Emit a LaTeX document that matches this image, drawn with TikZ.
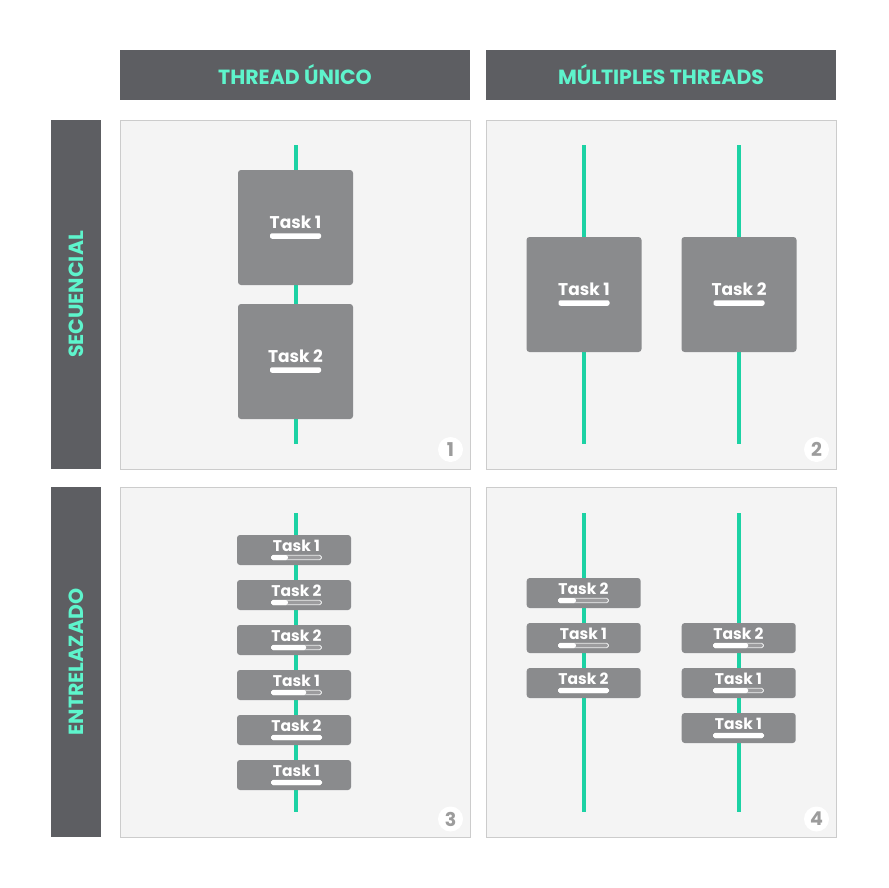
\documentclass[tikz,border=0pt]{standalone}
\usepackage{fontspec}
\setmainfont{Poppins}
\definecolor{hdr}{HTML}{5D5E62}
\definecolor{mint}{HTML}{5EF4CC}
\definecolor{thr}{HTML}{1CD2A4}
\definecolor{tbox}{HTML}{8A8B8D}
\definecolor{pbg}{HTML}{F4F4F4}
\definecolor{pline}{HTML}{CCCCCC}
\definecolor{numc}{HTML}{9C9C9C}
\newcommand{\tasksmall}[6]{% name, box cx, cy, label, frac, content cx
  \node[smallbox] (#1) at (#2,#3) {};
  \node[tasklabel, font=\fontsize{15.5}{16}\selectfont\bfseries] (#1-l) at (#6,#3-4.5) {#4};
  \node[barbg] (#1-b) at (#6,#3+7.5) {};
  \pgfmathsetmacro\barend{#6-25.5+51*#5}
  \fill[white, rounded corners=1.8pt] (#6-25.5,#3+5) rectangle (\barend,#3+10);
}
\newcommand{\taskbig}[4]{% name, cx, cy, label
  \node[bigbox] (#1) at (#2,#3) {};
  \node[tasklabel, font=\fontsize{17}{18}\selectfont\bfseries] (#1-l) at (#2,#3-5) {#4};
  \node[barfull] (#1-b) at (#2,#3+8.5) {};
}
\begin{document}
\begin{tikzpicture}[x=1pt,y=-1pt,
  header/.style={fill=hdr, draw=none, inner sep=0pt, text=mint,
    font=\fontsize{20.5}{22}\selectfont\bfseries},
  panel/.style={fill=pbg, draw=pline, line width=0.8pt, inner sep=0pt},
  thread/.style={draw=thr, line width=4pt},
  bigbox/.style={fill=tbox, rounded corners=3pt, minimum width=115pt, minimum height=115pt, inner sep=0pt},
  smallbox/.style={fill=tbox, rounded corners=3pt, minimum width=114pt, minimum height=30pt, inner sep=0pt},
  tasklabel/.style={text=white, inner sep=0pt},
  barfull/.style={fill=white, rounded corners=2pt, minimum width=51pt, minimum height=5.5pt, inner sep=0pt},
  barbg/.style={fill=tbox!85!white, draw=white!85!tbox, line width=0.9pt, rounded corners=1.8pt, minimum width=50pt, minimum height=4.5pt, inner sep=0pt},
  numcirc/.style={circle, fill=white, minimum size=25pt, inner sep=0pt, text=numc,
    font=\fontsize{19}{20}\selectfont\bfseries}
]
\useasboundingbox (0,0) rectangle (888,888);
\fill[white] (0,0) rectangle (888,888);

% headers
\node[header, minimum width=350pt, minimum height=50pt] (h1) at (295,75) {THREAD ÚNICO};
\node[header, minimum width=350pt, minimum height=50pt] (h2) at (661,75) {MÚLTIPLES THREADS};
\node[header, minimum width=349pt, minimum height=50pt, rotate=90] (r1) at (76,294.5) {SECUENCIAL};
\node[header, minimum width=350pt, minimum height=50pt, rotate=90] (r2) at (76,662) {ENTRELAZADO};

% panels
\node[panel, minimum width=350pt, minimum height=349pt] (p1) at (295,294.5) {};
\node[panel, minimum width=350pt, minimum height=349pt] (p2) at (661,294.5) {};
\node[panel, minimum width=350pt, minimum height=350pt] (p3) at (295,662) {};
\node[panel, minimum width=350pt, minimum height=350pt] (p4) at (661,662) {};

% threads
\coordinate (t1a) at (295.5,145); \coordinate (t1b) at (295.5,444);
\coordinate (t2a) at (583.5,145); \coordinate (t2b) at (583.5,444);
\coordinate (t3a) at (739,145);   \coordinate (t3b) at (739,444);
\coordinate (t4a) at (295.5,513); \coordinate (t4b) at (295.5,812);
\coordinate (t5a) at (583.5,513); \coordinate (t5b) at (583.5,812);
\coordinate (t6a) at (739,513);   \coordinate (t6b) at (739,812);
\draw[thread] (t1a) -- (t1b);
\draw[thread] (t2a) -- (t2b);
\draw[thread] (t3a) -- (t3b);
\draw[thread] (t4a) -- (t4b);
\draw[thread] (t5a) -- (t5b);
\draw[thread] (t6a) -- (t6b);

% panel 1
\taskbig{a1}{295.5}{227.5}{Task 1}
\taskbig{a2}{295.5}{361.5}{Task 2}
% panel 2
\taskbig{b1}{584}{294.5}{Task 1}
\taskbig{b2}{739}{294.5}{Task 2}

% panel 3
\tasksmall{c1}{294}{550}{Task 1}{0.333}{296.5}
\tasksmall{c2}{294}{595}{Task 2}{0.333}{296.5}
\tasksmall{c3}{294}{640}{Task 2}{0.69}{296.5}
\tasksmall{c4}{294}{685}{Task 1}{0.69}{296.5}
\tasksmall{c5}{294}{730}{Task 2}{1}{296.5}
\tasksmall{c6}{294}{775}{Task 1}{1}{296.5}

% panel 4
\tasksmall{d1}{583.7}{593}{Task 2}{0.35}{583.5}
\tasksmall{d2}{583.7}{638}{Task 1}{0.35}{583.5}
\tasksmall{d3}{583.7}{683}{Task 2}{1}{583.5}
\tasksmall{e1}{738.7}{638}{Task 2}{0.69}{738.5}
\tasksmall{e2}{738.7}{683}{Task 1}{0.69}{738.5}
\tasksmall{e3}{738.7}{728}{Task 1}{1}{738.5}

% numbers
\node[numcirc] (n1) at (450.5,449.5) {1};
\node[numcirc] (n2) at (816.5,449.5) {2};
\node[numcirc] (n3) at (450.5,819) {3};
\node[numcirc] (n4) at (816.5,819) {4};
\end{tikzpicture}
\end{document}
